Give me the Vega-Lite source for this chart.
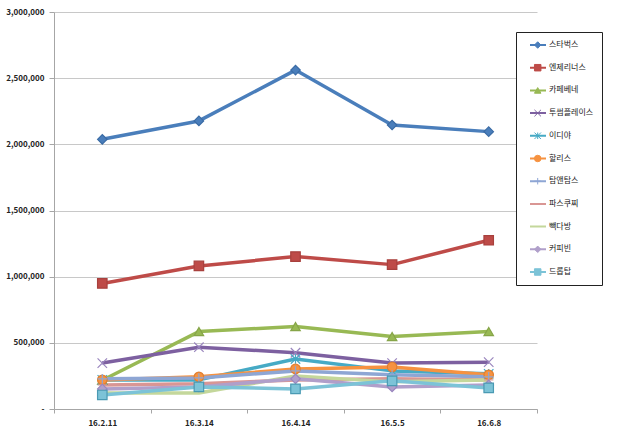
{
  "$schema": "https://vega.github.io/schema/vega-lite/v6.json",
  "width": 483,
  "height": 397,
  "autosize": "none",
  "padding": {"left": 54, "top": 12, "right": 83, "bottom": 33},
  "background": "white",
  "config": {
    "view": {"stroke": null},
    "font": "Noto Sans CJK KR",
    "axis": {"labelFont": "Noto Sans CJK KR", "labelFontSize": 8, "labelFontWeight": "bold", "labelColor": "#222"}
  },
  "data": {
    "values": [
      {"brand": "스타벅스", "date": "16.2.11", "value": 2038000},
      {"brand": "스타벅스", "date": "16.3.14", "value": 2177000},
      {"brand": "스타벅스", "date": "16.4.14", "value": 2561000},
      {"brand": "스타벅스", "date": "16.5.5", "value": 2146000},
      {"brand": "스타벅스", "date": "16.6.8", "value": 2096000},
      {"brand": "엔제리너스", "date": "16.2.11", "value": 949000},
      {"brand": "엔제리너스", "date": "16.3.14", "value": 1081000},
      {"brand": "엔제리너스", "date": "16.4.14", "value": 1152000},
      {"brand": "엔제리너스", "date": "16.5.5", "value": 1091000},
      {"brand": "엔제리너스", "date": "16.6.8", "value": 1275000},
      {"brand": "카페베네", "date": "16.2.11", "value": 217000},
      {"brand": "카페베네", "date": "16.3.14", "value": 585000},
      {"brand": "카페베네", "date": "16.4.14", "value": 623000},
      {"brand": "카페베네", "date": "16.5.5", "value": 547000},
      {"brand": "카페베네", "date": "16.6.8", "value": 585000},
      {"brand": "투썸플레이스", "date": "16.2.11", "value": 347000},
      {"brand": "투썸플레이스", "date": "16.3.14", "value": 467000},
      {"brand": "투썸플레이스", "date": "16.4.14", "value": 425000},
      {"brand": "투썸플레이스", "date": "16.5.5", "value": 347000},
      {"brand": "투썸플레이스", "date": "16.6.8", "value": 354000},
      {"brand": "이디야", "date": "16.2.11", "value": 220000},
      {"brand": "이디야", "date": "16.3.14", "value": 220000},
      {"brand": "이디야", "date": "16.4.14", "value": 378000},
      {"brand": "이디야", "date": "16.5.5", "value": 288000},
      {"brand": "이디야", "date": "16.6.8", "value": 266000},
      {"brand": "할리스", "date": "16.2.11", "value": 220000},
      {"brand": "할리스", "date": "16.3.14", "value": 243000},
      {"brand": "할리스", "date": "16.4.14", "value": 303000},
      {"brand": "할리스", "date": "16.5.5", "value": 318000},
      {"brand": "할리스", "date": "16.6.8", "value": 258000},
      {"brand": "탐앤탐스", "date": "16.2.11", "value": 228000},
      {"brand": "탐앤탐스", "date": "16.3.14", "value": 235000},
      {"brand": "탐앤탐스", "date": "16.4.14", "value": 288000},
      {"brand": "탐앤탐스", "date": "16.5.5", "value": 258000},
      {"brand": "탐앤탐스", "date": "16.6.8", "value": 243000},
      {"brand": "파스쿠찌", "date": "16.2.11", "value": 182000},
      {"brand": "파스쿠찌", "date": "16.3.14", "value": 190000},
      {"brand": "파스쿠찌", "date": "16.4.14", "value": 220000},
      {"brand": "파스쿠찌", "date": "16.5.5", "value": 228000},
      {"brand": "파스쿠찌", "date": "16.6.8", "value": 220000},
      {"brand": "빽다방", "date": "16.2.11", "value": 121000},
      {"brand": "빽다방", "date": "16.3.14", "value": 121000},
      {"brand": "빽다방", "date": "16.4.14", "value": 250000},
      {"brand": "빽다방", "date": "16.5.5", "value": 205000},
      {"brand": "빽다방", "date": "16.6.8", "value": 220000},
      {"brand": "커피빈", "date": "16.2.11", "value": 152000},
      {"brand": "커피빈", "date": "16.3.14", "value": 167000},
      {"brand": "커피빈", "date": "16.4.14", "value": 228000},
      {"brand": "커피빈", "date": "16.5.5", "value": 167000},
      {"brand": "커피빈", "date": "16.6.8", "value": 182000},
      {"brand": "드롭탑", "date": "16.2.11", "value": 106000},
      {"brand": "드롭탑", "date": "16.3.14", "value": 167000},
      {"brand": "드롭탑", "date": "16.4.14", "value": 152000},
      {"brand": "드롭탑", "date": "16.5.5", "value": 213000},
      {"brand": "드롭탑", "date": "16.6.8", "value": 159000}
    ]
  },
  "transform": [{"calculate": "datum.brand + '_m'", "as": "marker"}],
  "encoding": {
    "x": {
      "field": "date",
      "type": "ordinal",
      "sort": null,
      "scale": {"type": "band", "paddingInner": 0, "paddingOuter": 0},
      "axis": {
        "title": null,
        "labelAngle": 0,
        "tickBand": "extent",
        "domainColor": "#a6a6a6",
        "tickColor": "#a6a6a6",
        "tickSize": 4,
        "labelPadding": 6,
        "grid": false
      }
    },
    "y": {
      "field": "value",
      "type": "quantitative",
      "scale": {"domain": [0, 3000000]},
      "axis": {
        "title": null,
        "values": [0, 500000, 1000000, 1500000, 2000000, 2500000, 3000000],
        "labelExpr": "datum.value == 0 ? '-' : format(datum.value, ',')",
        "grid": true,
        "gridColor": "#c8c8c8",
        "domainColor": "#a6a6a6",
        "tickColor": "#a6a6a6",
        "tickSize": 5,
        "labelPadding": 5
      }
    }
  },
  "layer": [
    {
      "mark": {"type": "line", "strokeWidth": 3.5, "strokeJoin": "round"},
      "encoding": {
        "color": {
          "field": "brand",
          "type": "nominal",
          "scale": {
            "domain": ["스타벅스", "엔제리너스", "카페베네", "투썸플레이스", "이디야", "할리스", "탐앤탐스", "파스쿠찌", "빽다방", "커피빈", "드롭탑"],
            "range": ["#4A7EBB", "#BE4B48", "#98B954", "#7D60A0", "#46AAC5", "#F69240", "#8EA6D4", "#D99694", "#C4D79B", "#B09FCA", "#7CC3D7"]
          },
          "legend": {
            "title": null,
            "orient": "none",
            "legendX": 462,
            "legendY": 20,
            "symbolType": "stroke",
            "symbolSize": 256,
            "symbolStrokeWidth": 2,
            "symbolOffset": 5,
            "labelFont": "Noto Sans CJK KR",
            "labelFontSize": 8,
            "labelColor": "#222",
            "labelOffset": 2,
            "clipHeight": 10,
            "rowPadding": 12.7,
            "padding": 8,
            "strokeColor": "#222",
            "fillColor": "white"
          }
        }
      }
    },
    {
      "mark": {"type": "point", "filled": true, "size": 90, "strokeWidth": 1.2, "opacity": 1},
      "encoding": {
        "color": {"field": "brand", "type": "nominal"},
        "stroke": {
          "field": "brand",
          "type": "nominal",
          "legend": null,
          "scale": {
            "domain": ["스타벅스", "엔제리너스", "카페베네", "투썸플레이스", "이디야", "할리스", "탐앤탐스", "파스쿠찌", "빽다방", "커피빈", "드롭탑"],
            "range": ["#3A6BA5", "#A8403D", "#86A548", "#9A86BE", "#46AAC5", "#E07F30", "#8EA6D4", "#D99694", "#C4D79B", "#9A86BE", "#4A9AB3"]
          }
        },
        "shape": {
          "field": "marker",
          "type": "nominal",
          "scale": {
            "domain": ["스타벅스_m", "엔제리너스_m", "카페베네_m", "투썸플레이스_m", "이디야_m", "할리스_m", "탐앤탐스_m", "파스쿠찌_m", "빽다방_m", "커피빈_m", "드롭탑_m"],
            "range": ["diamond", "square", "triangle-up", "M-1,-1L1,1M-1,1L1,-1", "M-1,-1L1,1M-1,1L1,-1M0,-1L0,1", "circle", "M-1,0L1,0M0,-1L0,1", "M-1,0L1,0", "M0,0", "diamond", "square"]
          },
          "legend": {
            "title": null,
            "orient": "none",
            "legendX": 462,
            "legendY": 20,
            "symbolSize": 42,
            "symbolOffset": 9.7,
            "symbolStrokeWidth": 1,
            "symbolFillColor": {"expr": "scale('color', replace(datum.value, '_m', ''))"},
            "symbolStrokeColor": {"expr": "scale('color', replace(datum.value, '_m', ''))"},
            "labelExpr": "''",
            "labelFont": "Noto Sans CJK KR",
            "labelFontSize": 8,
            "labelOffset": 2,
            "clipHeight": 10,
            "rowPadding": 12.7,
            "padding": 8
          }
        }
      }
    }
  ]
}
